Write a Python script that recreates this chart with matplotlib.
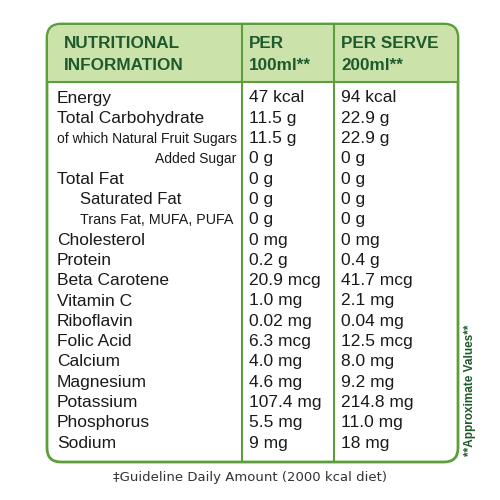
import matplotlib.pyplot as plt
from matplotlib.patches import FancyBboxPatch, Rectangle

nutrients = ['Energy', 'Total Carbohydrate', 'of which Natural Fruit Sugars', 'Added Sugar',
             'Total Fat', 'Saturated Fat', 'Trans Fat, MUFA, PUFA', 'Cholesterol', 'Protein',
             'Beta Carotene', 'Vitamin C', 'Riboflavin', 'Folic Acid', 'Calcium',
             'Magnesium', 'Potassium', 'Phosphorus', 'Sodium']
per_100ml = ['47 kcal', '11.5 g', '11.5 g', '0 g', '0 g', '0 g', '0 g', '0 mg', '0.2 g',
             '20.9 mcg', '1.0 mg', '0.02 mg', '6.3 mcg', '4.0 mg', '4.6 mg', '107.4 mg',
             '5.5 mg', '9 mg']
per_serve = ['94 kcal', '22.9 g', '22.9 g', '0 g', '0 g', '0 g', '0 g', '0 mg', '0.4 g',
             '41.7 mcg', '2.1 mg', '0.04 mg', '12.5 mcg', '8.0 mg', '9.2 mg', '214.8 mg',
             '11.0 mg', '18 mg']
# label style: (x, size, align)
styles = {'of which Natural Fruit Sugars': (57, 10, 'left'),
          'Added Sugar': (236, 10, 'right'),
          'Saturated Fat': (80, 12, 'left'),
          'Trans Fat, MUFA, PUFA': (80, 10.3, 'left')}

plt.rcParams['font.family'] = ['Liberation Sans', 'DejaVu Sans']
green = '#5c9e3c'
dark = '#1f5a2c'
body = '#1a1a1a'
fig = plt.figure(figsize=(5, 5), dpi=100)
ax = fig.add_axes([0, 0, 1, 1])
ax.set_xlim(0, 500)
ax.set_ylim(500, 0)
ax.axis('off')

ax.add_patch(FancyBboxPatch((47, 24), 411, 438, boxstyle='round,pad=0,rounding_size=14',
                            fc='white', ec=green, lw=2))
ax.add_patch(FancyBboxPatch((48, 25), 409, 57, boxstyle='round,pad=0,rounding_size=13',
                            fc='#cbe2ab', ec='none'))
ax.add_patch(Rectangle((48, 60), 409, 22, fc='#cbe2ab', ec='none'))
ax.plot([47, 458], [82, 82], color=green, lw=1.5)
for x in (242, 334):
    ax.plot([x, x], [24, 462], color=green, lw=1.5)

hdr = dict(color=dark, fontsize=12.3, fontweight='bold', va='center')
ax.text(64, 44, 'NUTRITIONAL', **hdr)
ax.text(64, 65, 'INFORMATION', **hdr)
ax.text(249, 44, 'PER', **hdr)
ax.text(249, 65, '100ml**', **hdr)
ax.text(341, 44, 'PER SERVE', **hdr)
ax.text(341, 65, '200ml**', **hdr)

for i, name in enumerate(nutrients):
    y = 98 + i * 20.3
    x, size, ha = styles.get(name, (57, 12.5, 'left'))
    ax.text(x, y, name, fontsize=size, ha=ha, va='center', color=body)
    ax.text(249, y, per_100ml[i], fontsize=12.5, va='center', color=body)
    ax.text(341, y, per_serve[i], fontsize=12.5, va='center', color=body)

ax.text(250, 477, '\u2021Guideline Daily Amount (2000 kcal diet)', fontsize=9.5,
        ha='center', va='center', color='#333333', family=['DejaVu Sans'])
ax.text(470, 390, '**Approximate Values**', fontsize=8.5, rotation=90, ha='center',
        va='center', color=dark, fontweight='bold')
fig.savefig('out.png', dpi=100)
